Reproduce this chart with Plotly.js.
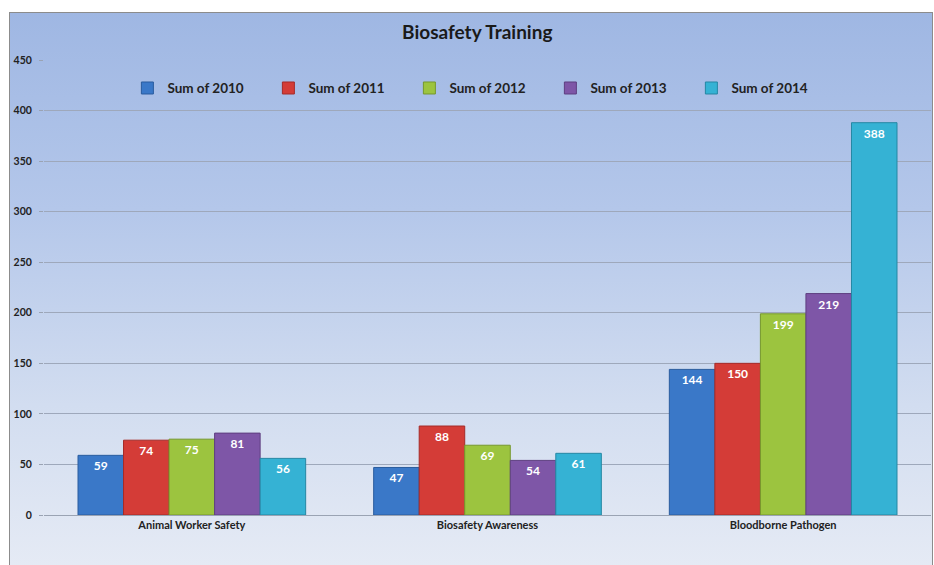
<!DOCTYPE html>
<html>
<head>
<meta charset="utf-8">
<script src="https://cdn.plot.ly/plotly-3.0.1.min.js"></script>
<style>
  html, body { margin: 0; padding: 0; background: #ffffff; }
  #wrap { position: relative; width: 934px; height: 565px; overflow: hidden; }
  #bg { position: absolute; left: 9px; top: 12px; width: 922px; height: 560px;
        border: 1px solid #8c8c8c; border-bottom: none;
        background: linear-gradient(to bottom, #9fb7e3 0%, #b4c7ea 35%, #d2ddf0 70%, #e6ebf5 100%); }
  #chart { position: absolute; left: 0; top: 0; width: 934px; height: 565px; }
</style>
</head>
<body>
<div id="wrap">
  <div id="bg"></div>
  <div id="chart"></div>
</div>
<script>
const categories = ["Animal Worker Safety", "Biosafety Awareness", "Bloodborne Pathogen"];
const seriesNames = ["Sum of 2010", "Sum of 2011", "Sum of 2012", "Sum of 2013", "Sum of 2014"];
const sum2010 = [59, 47, 144];
const sum2011 = [74, 88, 150];
const sum2012 = [75, 69, 199];
const sum2013 = [81, 54, 219];
const sum2014 = [56, 61, 388];
const yTicks = [0, 50, 100, 150, 200, 250, 300, 350, 400, 450];

const seriesValues = [sum2010, sum2011, sum2012, sum2013, sum2014];
const colors = ["#3a78c8", "#d43c37", "#9cc43f", "#7e56a7", "#35b2d4"];
const edges = ["#2a5c9e", "#a52b28", "#76982c", "#5e3f80", "#2587a3"];
const fontFam = "Lato, 'Open Sans', sans-serif";

const traces = seriesValues.map((vals, i) => ({
  type: "bar",
  name: seriesNames[i],
  x: categories,
  y: vals,
  text: vals.map(String),
  textposition: "inside",
  insidetextanchor: "end",
  textangle: 0,
  textfont: { family: fontFam, size: 12, color: "#ffffff", weight: "bold" },
  marker: { color: colors[i], line: { color: edges[i], width: 1 } },
  hoverinfo: "x+y+name"
}));

const layout = {
  width: 934,
  height: 565,
  margin: { l: 44, r: 3, t: 60, b: 50 },
  paper_bgcolor: "rgba(0,0,0,0)",
  plot_bgcolor: "rgba(0,0,0,0)",
  barmode: "group",
  bargap: 0.23,
  bargroupgap: 0,
  font: { family: fontFam, color: "#222222" },
  title: {
    text: "<b>Biosafety Training</b>",
    font: { family: fontFam, size: 19, color: "#1a1a1a" },
    x: 0.511, xref: "container", xanchor: "center",
    y: 0.942, yref: "container", yanchor: "middle"
  },
  showlegend: true,
  legend: {
    orientation: "h",
    x: 0.094, xanchor: "left",
    y: 0.938, yanchor: "middle",
    bgcolor: "rgba(0,0,0,0)",
    font: { family: fontFam, size: 13.5, color: "#222222", weight: "bold" },
    entrywidth: 96,
    entrywidthmode: "pixels",
    traceorder: "normal"
  },
  xaxis: {
    type: "category",
    showgrid: false,
    showline: true,
    linecolor: "#9aa3b3",
    linewidth: 1,
    ticks: "",
    tickfont: { family: fontFam, size: 11, color: "#222222", weight: "bold" },
    fixedrange: true
  },
  yaxis: {
    range: [0, 450],
    tickvals: yTicks,
    ticktext: yTicks.map(String),
    showgrid: true,
    gridcolor: "#9ea8bb",
    gridwidth: 1,
    zeroline: false,
    showline: false,
    ticks: "outside",
    ticklen: 4,
    tickcolor: "#9aa3b3",
    ticklabelstandoff: 5,
    tickfont: { family: fontFam, size: 10.5, color: "#222222", weight: "bold" },
    fixedrange: true
  }
};

Plotly.newPlot("chart", traces, layout, { displayModeBar: false, staticPlot: true });
</script>
</body>
</html>
